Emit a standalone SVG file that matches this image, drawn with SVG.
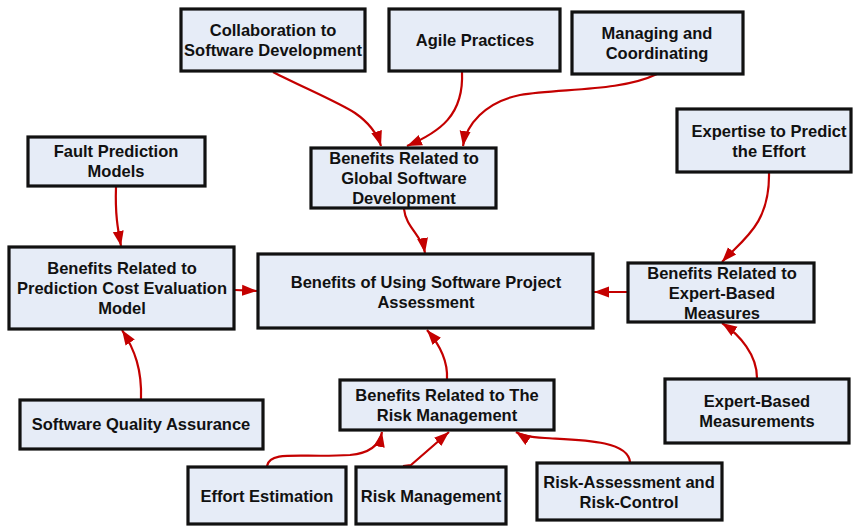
<svg xmlns="http://www.w3.org/2000/svg" width="854" height="528" viewBox="0 0 854 528">
<style>
.box{fill:#e6ecf7;stroke:#111;stroke-width:3.2}
.t{font-family:"Liberation Sans",Arial,sans-serif;font-weight:bold;font-size:16.5px;fill:#111;text-anchor:middle}
.c{fill:none;stroke:#c40000;stroke-width:2.2}
</style>
<defs>
<marker id="ah" markerUnits="userSpaceOnUse" markerWidth="16" markerHeight="14" viewBox="0 0 16 14" refX="15" refY="7" orient="auto">
<path d="M0,1.5 L15,7 L0,12.5 Z" fill="#c40000"/>
</marker>
</defs>
<rect width="854" height="528" fill="#fff"/>
<g id="connectors">
<path class="c" marker-end="url(#ah)" d="M273,72 C300,86 338,102 355,113 C368,122 377,133 381,146"/>
<path class="c" marker-end="url(#ah)" d="M462,72 C464,115 440,132 407,146"/>
<path class="c" marker-end="url(#ah)" d="M657,74 C620,92 560,88 520,95 C485,102 466,125 463,146"/>
<path class="c" marker-end="url(#ah)" d="M116,187 C115,215 118,230 121,246"/>
<path class="c" marker-end="url(#ah)" d="M404,209 C406,228 422,235 425,253"/>
<path class="c" marker-end="url(#ah)" d="M235,290 L257,291"/>
<path class="c" marker-end="url(#ah)" d="M769,173 C770,225 742,240 722,262"/>
<path class="c" marker-end="url(#ah)" d="M627,292 L594,292"/>
<path class="c" marker-end="url(#ah)" d="M757,378 C757,355 740,335 722,323"/>
<path class="c" marker-end="url(#ah)" d="M141,399 C142,370 135,350 122,330"/>
<path class="c" marker-end="url(#ah)" d="M447,379 C448,360 440,345 427,330"/>
<path class="c" marker-end="url(#ah)" d="M267,466 C270,450 300,458 350,455 C372,453 380,443 382,432"/>
<path class="c" marker-end="url(#ah)" d="M403,466 L411,465 L449,432"/>
<path class="c" marker-end="url(#ah)" d="M630,462 C628,440 580,440 545,438 C530,437 522,436 516,432"/>
</g>
<g id="collab"><rect class="box" x="181" y="9" width="184" height="62"/><text class="t" x="273" y="36">Collaboration to</text><text class="t" x="273" y="56">Software Development</text></g>
<g id="agile"><rect class="box" x="389" y="9" width="171" height="62"/><text class="t" x="475" y="46">Agile Practices</text></g>
<g id="managing"><rect class="box" x="572" y="12" width="171" height="62"/><text class="t" x="657" y="39">Managing and</text><text class="t" x="657" y="59">Coordinating</text></g>
<g id="fault"><rect class="box" x="28" y="137" width="177" height="49"/><text class="t" x="116" y="157">Fault Prediction</text><text class="t" x="116" y="177">Models</text></g>
<g id="global"><rect class="box" x="311" y="148" width="185" height="60"/><text class="t" x="404" y="164">Benefits Related to</text><text class="t" x="404" y="184">Global Software</text><text class="t" x="404" y="204">Development</text></g>
<g id="expertise"><rect class="box" x="677" y="109" width="174" height="63"/><text class="t" x="769" y="137">Expertise to Predict</text><text class="t" x="769" y="157">the Effort</text></g>
<g id="prediction"><rect class="box" x="9" y="247" width="225" height="82"/><text class="t" x="122" y="274">Benefits Related to</text><text class="t" x="122" y="294">Prediction Cost Evaluation</text><text class="t" x="122" y="314">Model</text></g>
<g id="main"><rect class="box" x="258" y="254" width="335" height="74"/><text class="t" x="426" y="288">Benefits of Using Software Project</text><text class="t" x="426" y="308">Assessment</text></g>
<g id="ebmeasures"><rect class="box" x="628" y="263" width="186" height="59"/><text class="t" x="722" y="279">Benefits Related to</text><text class="t" x="722" y="299">Expert-Based</text><text class="t" x="722" y="319">Measures</text></g>
<g id="risk"><rect class="box" x="340" y="380" width="214" height="50"/><text class="t" x="447" y="401">Benefits Related to The</text><text class="t" x="447" y="421">Risk Management</text></g>
<g id="sqa"><rect class="box" x="20" y="400" width="243" height="49"/><text class="t" x="141" y="430">Software Quality Assurance</text></g>
<g id="ebmeasurements"><rect class="box" x="665" y="379" width="184" height="64"/><text class="t" x="757" y="407">Expert-Based</text><text class="t" x="757" y="427">Measurements</text></g>
<g id="effort"><rect class="box" x="188" y="467" width="158" height="57"/><text class="t" x="267" y="502">Effort Estimation</text></g>
<g id="riskmgmt"><rect class="box" x="356" y="467" width="150" height="57"/><text class="t" x="431" y="502">Risk Management</text></g>
<g id="riskassess"><rect class="box" x="537" y="463" width="185" height="57"/><text class="t" x="629" y="488">Risk-Assessment and</text><text class="t" x="629" y="508">Risk-Control</text></g>
</svg>
